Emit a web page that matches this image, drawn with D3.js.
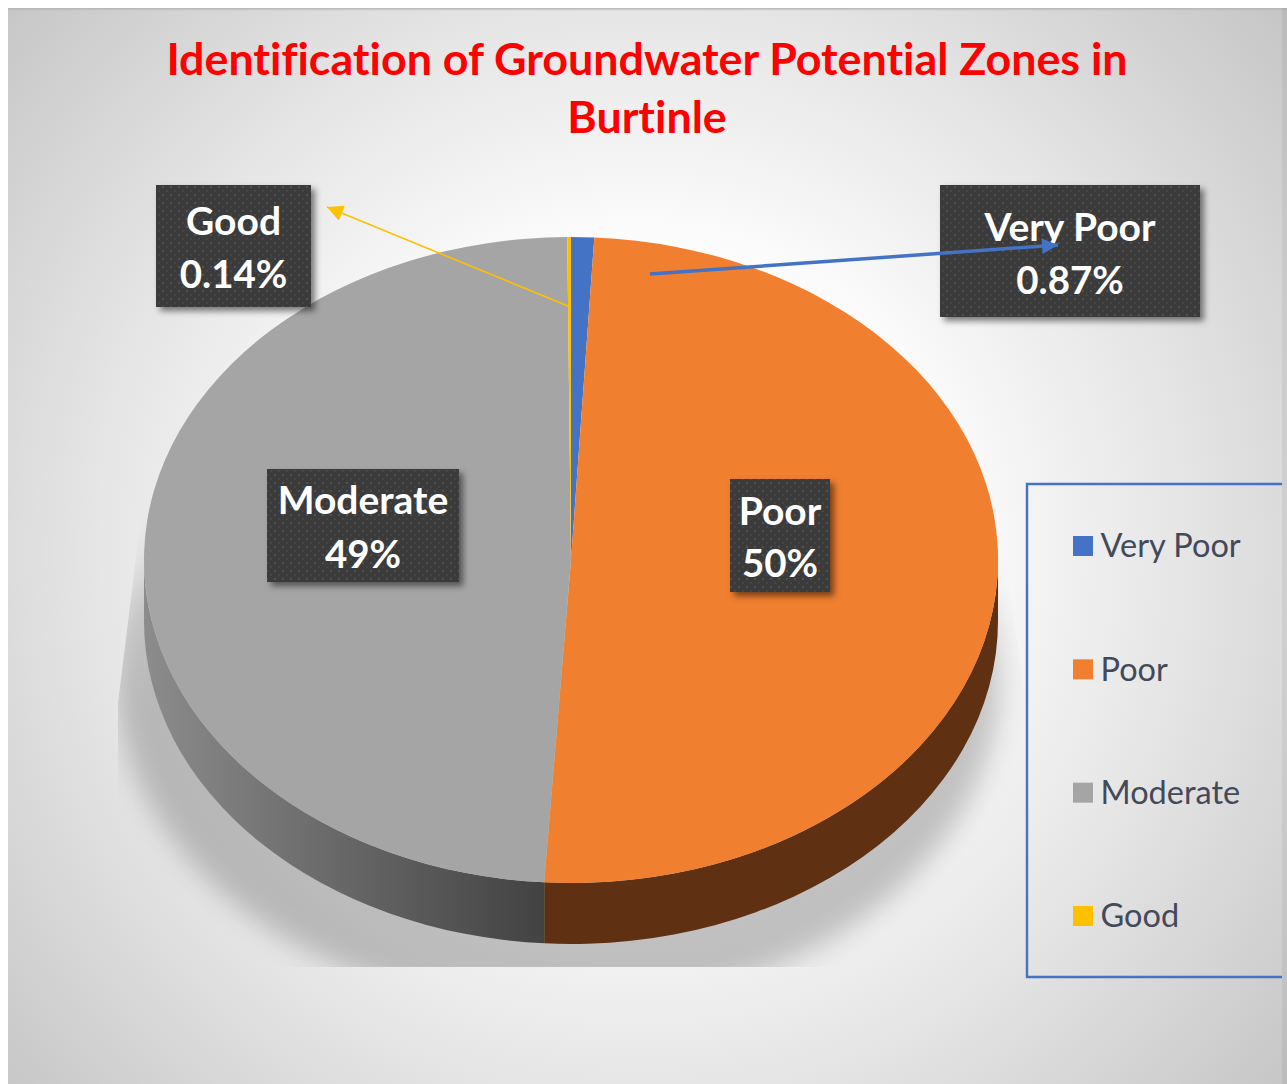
<!DOCTYPE html>
<html>
<head>
<meta charset="utf-8">
<title>Groundwater Potential Zones</title>
<script src="https://cdn.jsdelivr.net/npm/d3@7"></script>
<style>
	html, body { margin: 0; padding: 0; background: #fff; overflow: hidden; }
	svg { display: block; }
	text { font-family: Lato, "Open Sans", sans-serif; font-variant-ligatures: none; }
</style>
</head>
<body>
<div id="chart"></div>
<script>
const categories = ["Very Poor", "Poor", "Moderate", "Good"];
const shares = [0.87, 50.13, 48.86, 0.14];
const shareLabels = ["0.87%", "50%", "49%", "0.14%"];
const colors = ["#4472c4", "#f07f2f", "#a5a5a5", "#ffc000"];
const wallColors = ["#2a4476", "#5f3112", "url(#wallGrey)", "#997300"];
const titleLines = ["Identification of Groundwater Potential Zones in", "Burtinle"];

const width = 1287, height = 1084;

// pie geometry
const cx = 571, cy = 560, rx = 427, ry = 323, depth = 61;
const squash = ry / rx;

const svg = d3.select("#chart").append("svg")
	.attr("width", width)
	.attr("height", height)
	.attr("viewBox", "0 0 " + width + " " + height);

const defs = svg.append("defs");

// page background
const bg = defs.append("radialGradient")
	.attr("id", "bg")
	.attr("gradientUnits", "userSpaceOnUse")
	.attr("cx", 640).attr("cy", 550).attr("r", 840);
bg.selectAll("stop")
	.data([
		{o: 0, c: "#ffffff"},
		{o: 0.36, c: "#fdfdfd"},
		{o: 0.5, c: "#f1f1f1"},
		{o: 0.64, c: "#e6e6e6"},
		{o: 1, c: "#c6c6c6"}
	])
	.enter().append("stop")
	.attr("offset", d => d.o)
	.attr("stop-color", d => d.c);

const topEdge = defs.append("linearGradient")
	.attr("id", "topEdge")
	.attr("x1", 0).attr("y1", 0).attr("x2", 0).attr("y2", 1);
topEdge.append("stop").attr("offset", 0).attr("stop-color", "#b4b4b4");
topEdge.append("stop").attr("offset", 1).attr("stop-color", "#b4b4b4").attr("stop-opacity", 0);

// side of the grey slice, x is relative to the pie centre
const wallGrey = defs.append("linearGradient")
	.attr("id", "wallGrey")
	.attr("gradientUnits", "userSpaceOnUse")
	.attr("x1", -rx).attr("y1", 0)
	.attr("x2", -26).attr("y2", 0);
wallGrey.append("stop").attr("offset", 0).attr("stop-color", "#8c8c8c");
wallGrey.append("stop").attr("offset", 1).attr("stop-color", "#424242");

// dotted fill of the data labels
const dots = defs.append("pattern")
	.attr("id", "dots")
	.attr("patternUnits", "userSpaceOnUse")
	.attr("width", 16).attr("height", 16);
dots.append("rect").attr("width", 16).attr("height", 16).attr("fill", "#3b3b3b");
[[2, 2], [10, 2], [2, 10], [10, 10]].forEach(function (p) {
	dots.append("rect").attr("x", p[0]).attr("y", p[1]).attr("width", 2).attr("height", 2).attr("fill", "#515151");
});
[[6, 6], [14, 6], [6, 14], [14, 14]].forEach(function (p) {
	dots.append("rect").attr("x", p[0]).attr("y", p[1]).attr("width", 2).attr("height", 2).attr("fill", "#444444");
});

const boxShadow = defs.append("filter")
	.attr("id", "boxShadow")
	.attr("x", "-20%").attr("y", "-20%").attr("width", "140%").attr("height", "140%");
boxShadow.append("feDropShadow")
	.attr("dx", 4).attr("dy", 4).attr("stdDeviation", 3)
	.attr("flood-color", "#000").attr("flood-opacity", 0.5);

defs.append("filter")
	.attr("id", "blur")
	.attr("x", "-20%").attr("y", "-20%").attr("width", "140%").attr("height", "140%")
	.append("feGaussianBlur").attr("stdDeviation", 14);

// the shadow fades out towards its top
const shadowFade = defs.append("linearGradient")
	.attr("id", "shadowFade")
	.attr("gradientUnits", "userSpaceOnUse")
	.attr("x1", 0).attr("y1", 470)
	.attr("x2", 0).attr("y2", 700);
shadowFade.selectAll("stop")
	.data([
		{o: 0, a: 0},
		{o: 0.39, a: 0.09},
		{o: 0.65, a: 0.17},
		{o: 1, a: 0.21}
	])
	.enter().append("stop")
	.attr("offset", d => d.o)
	.attr("stop-color", "#000")
	.attr("stop-opacity", d => d.a);

// the shadow is cut off by its own trapezoid
defs.append("clipPath")
	.attr("id", "shadowClip")
	.append("polygon")
	.attr("points", "148,460 118,703 118,967 1025,967 1025,697 1003,540 998,460");

// arrow heads
[["headBlue", colors[0]], ["headGold", colors[3]]].forEach(function (h) {
	defs.append("marker")
		.attr("id", h[0])
		.attr("markerUnits", "userSpaceOnUse")
		.attr("viewBox", "0 0 10 10")
		.attr("refX", 10).attr("refY", 5)
		.attr("markerWidth", 18).attr("markerHeight", 16)
		.attr("orient", "auto")
		.append("path")
		.attr("d", "M0,0L10,5L0,10Z")
		.attr("fill", h[1]);
});

// background and the picture's frame
svg.append("rect").attr("x", 8).attr("y", 8).attr("width", width - 8).attr("height", height - 8).attr("fill", "url(#bg)");
svg.append("rect").attr("x", 8).attr("y", 8).attr("width", width - 8).attr("height", 3).attr("fill", "url(#topEdge)");
svg.append("rect").attr("x", 1282).attr("y", 8).attr("width", 5).attr("height", height - 8).attr("fill", "#000").attr("opacity", 0.05);

// title
svg.append("g").selectAll("text")
	.data(titleLines)
	.enter().append("text")
	.attr("x", 647)
	.attr("y", (d, i) => 75 + i * 58)
	.attr("text-anchor", "middle")
	.attr("font-size", 44.8)
	.attr("font-weight", 700)
	.attr("fill", "#ff0000")
	.text(d => d);

// ground shadow
svg.append("g")
	.attr("clip-path", "url(#shadowClip)")
	.append("ellipse")
	.attr("cx", 558).attr("cy", 675)
	.attr("rx", 442).attr("ry", 335)
	.attr("fill", "url(#shadowFade)")
	.attr("filter", "url(#blur)");

// pie
const pie = d3.pie().sort(null).value(d => d);
const slices = pie(shares);
const arc = d3.arc().innerRadius(0).outerRadius(rx);

const pieGroup = svg.append("g")
	.attr("transform", "translate(" + cx + "," + cy + ") scale(1," + squash + ")");

// only the front half of the side is visible
const front = [Math.PI / 2, 3 * Math.PI / 2];
const drop = depth / squash;
function wallPath(d) {
	const a0 = Math.max(d.startAngle, front[0]) - Math.PI / 2;
	const a1 = Math.min(d.endAngle, front[1]) - Math.PI / 2;
	const p = d3.path();
	p.arc(0, 0, rx, a0, a1);
	p.arc(0, drop, rx, a1, a0, true);
	p.closePath();
	return p.toString();
}

pieGroup.selectAll(".wall")
	.data(slices.filter(d => d.endAngle > front[0] && d.startAngle < front[1]))
	.enter().append("path")
	.attr("class", "wall")
	.attr("d", wallPath)
	.attr("fill", d => wallColors[d.index]);

pieGroup.selectAll(".slice")
	.data(slices)
	.enter().append("path")
	.attr("class", "slice")
	.attr("d", arc)
	.attr("fill", d => colors[d.index]);

// leader lines
svg.append("line")
	.attr("x1", 568).attr("y1", 306).attr("x2", 327).attr("y2", 207)
	.attr("stroke", colors[3]).attr("stroke-width", 1.6)
	.attr("marker-end", "url(#headGold)");

// data labels
const labelBoxes = [
	{x: 940, y: 185, w: 260, h: 132, line1: 227, line2: 280.5},
	{x: 730, y: 479, w: 100, h: 113, line1: 511, line2: 564},
	{x: 267, y: 469, w: 192, h: 113, line1: 500, line2: 554.5},
	{x: 156, y: 185, w: 155, h: 122, line1: 221, line2: 274.5}
];

const labels = svg.append("g").selectAll("g")
	.data(categories)
	.enter().append("g");

labels.append("rect")
	.attr("x", (d, i) => labelBoxes[i].x)
	.attr("y", (d, i) => labelBoxes[i].y)
	.attr("width", (d, i) => labelBoxes[i].w)
	.attr("height", (d, i) => labelBoxes[i].h)
	.attr("fill", "url(#dots)")
	.attr("filter", "url(#boxShadow)");

labels.append("text")
	.attr("x", (d, i) => labelBoxes[i].x + labelBoxes[i].w / 2)
	.attr("y", (d, i) => labelBoxes[i].line1)
	.attr("dy", "0.35em")
	.attr("text-anchor", "middle")
	.attr("font-size", 39)
	.attr("font-weight", 700)
	.attr("fill", "#fff")
	.text(d => d);

labels.append("text")
	.attr("x", (d, i) => labelBoxes[i].x + labelBoxes[i].w / 2)
	.attr("y", (d, i) => labelBoxes[i].line2)
	.attr("dy", "0.35em")
	.attr("text-anchor", "middle")
	.attr("font-size", 38.5)
	.attr("font-weight", 700)
	.attr("fill", "#fff")
	.text((d, i) => shareLabels[i]);

// the blue leader runs over its label
svg.append("line")
	.attr("x1", 650).attr("y1", 274).attr("x2", 1058).attr("y2", 245)
	.attr("stroke", colors[0]).attr("stroke-width", 3.5)
	.attr("marker-end", "url(#headBlue)");

// legend, its right side is cut off by the picture
svg.append("path")
	.attr("d", d3.line()([[1282, 484], [1027, 484], [1027, 977], [1282, 977]]))
	.attr("fill", "none")
	.attr("stroke", "#4472c4")
	.attr("stroke-width", 2.4);

const legendY = d3.scalePoint()
	.domain(categories)
	.range([546, 916]);

const legend = svg.append("g").selectAll("g")
	.data(categories)
	.enter().append("g")
	.attr("transform", d => "translate(1073," + legendY(d) + ")");

legend.append("rect")
	.attr("y", -10)
	.attr("width", 20).attr("height", 20)
	.attr("fill", (d, i) => colors[i]);

legend.append("text")
	.attr("x", 27.5)
	.attr("dy", "0.35em")
	.attr("font-size", 32.5)
	.attr("fill", "#44495a")
	.text(d => d);
</script>
</body>
</html>
